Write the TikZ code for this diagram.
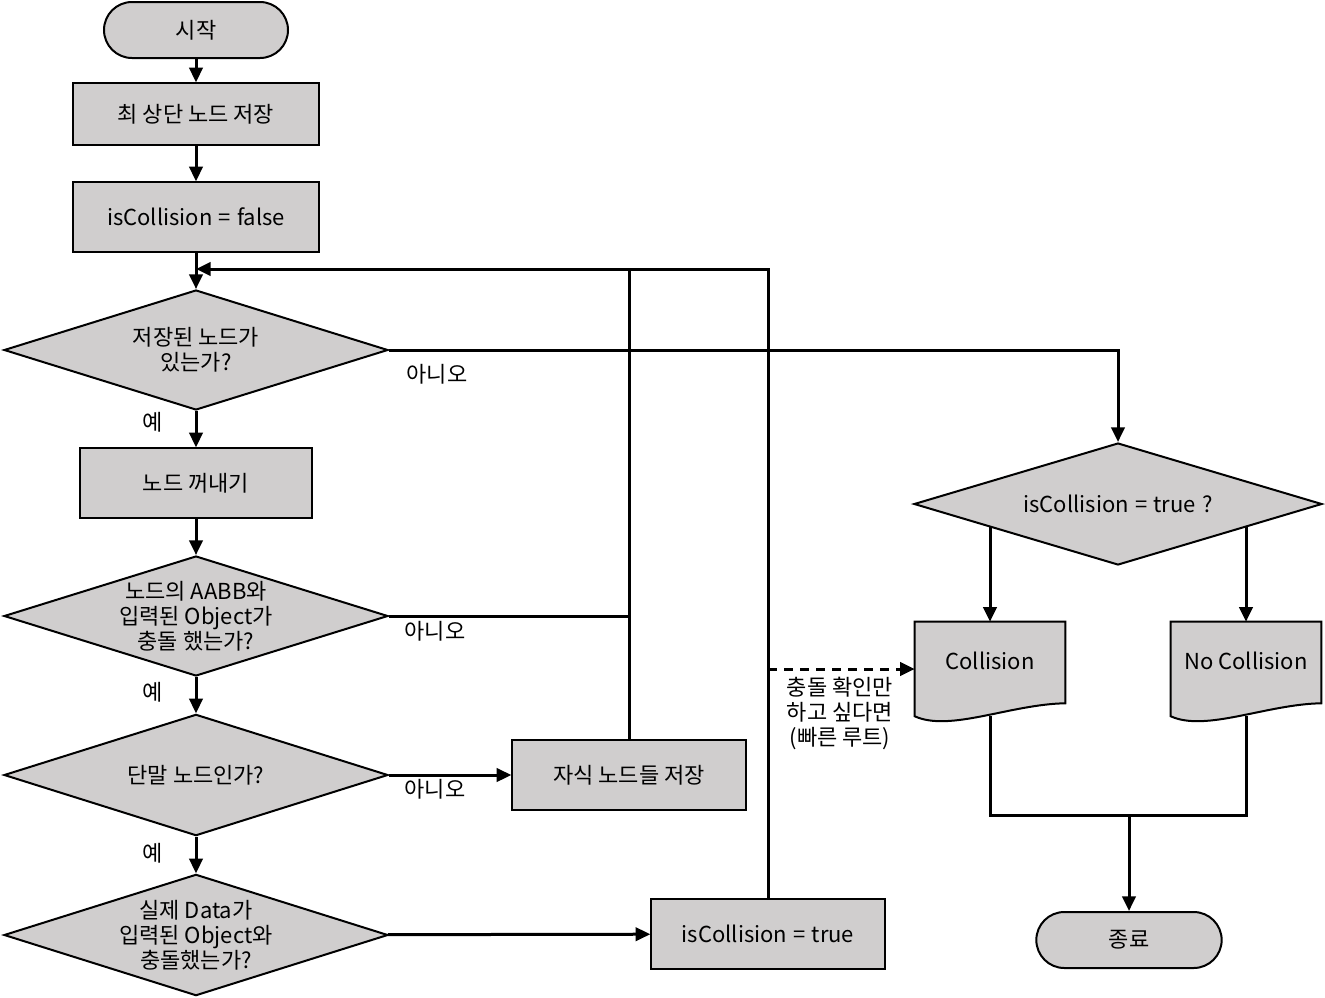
\documentclass[tikz,border=0pt]{standalone}
\usepackage{fontspec}
\setmainfont{Noto Sans CJK KR}
\usetikzlibrary{shapes.geometric, arrows.meta, calc, backgrounds}
\definecolor{boxgray}{RGB}{208,206,206}
\newcommand{\gap}{\hspace{0.28em}}
\tikzset{
  outline/.style={draw, fill=boxgray, line width=1.5pt},
  txt/.style={font=\fontsize{16.5}{18.75}\selectfont, align=center},
  process/.style={outline, txt, rectangle, inner sep=0pt},
  terminal/.style={outline, txt, rectangle, rounded corners=21pt, inner sep=0pt},
  decision/.style={outline, txt, diamond, inner sep=-25pt},
  docbox/.style={txt, rectangle, inner sep=0pt, text depth=13pt},
  flow/.style={line width=2.25pt, -{Triangle[length=11pt, width=10pt]}},
  wire/.style={line width=2.25pt},
  lbl/.style={txt}
}
\begin{document}
\begin{tikzpicture}[x=0.75pt, y=-0.75pt]
    \useasboundingbox (0,0) rectangle (1325,997);

    % main column
    \node[terminal, minimum width=138pt, minimum height=42pt] (start) at (196,30) {시작};
    \node[process, minimum width=185pt, minimum height=46pt] (store) at (196,114) {최 상단 노드 저장};
    \node[process, minimum width=185pt, minimum height=52pt] (init) at (196,217) {isCollision\gap=\gap false};
    \node[decision, minimum width=288pt, minimum height=90pt] (has) at (196,350) {저장된 노드가\\있는가?};
    \node[process, minimum width=174pt, minimum height=52pt] (pop) at (196,483) {노드 꺼내기};
    \node[decision, minimum width=288pt, minimum height=90pt] (hit) at (196,616) {노드의 AABB와\\입력된 Object가\\충돌 했는가?};
    \node[decision, minimum width=288pt, minimum height=91pt] (leaf) at (196,775) {단말 노드인가?};
    \node[decision, minimum width=288pt, minimum height=91pt] (data) at (196,935) {실제 Data가\\입력된 Object와\\충돌했는가?};
    \node[process, minimum width=175pt, minimum height=52pt] (child) at (629,775) {자식 노드들 저장};
    \node[process, minimum width=175pt, minimum height=52pt] (found) at (768,934) {isCollision\gap=\gap true};

    % result column
    \node[decision, minimum width=306pt, minimum height=91.5pt] (check) at (1118,504) {isCollision\gap=\gap true\gap?};
    \node[docbox, minimum width=112.5pt, minimum height=70.5pt] (collide) at (990,669) {Collision};
    \node[docbox, minimum width=112.5pt, minimum height=70.5pt] (nocoll) at (1246,669) {No Collision};
    \node[terminal, minimum width=139pt, minimum height=42pt] (finish) at (1129,940) {종료};

    \begin{scope}[on background layer]
        \foreach \d in {collide, nocoll}
            \draw[outline] (\d.south west) |- (\d.north east) -- ([yshift=9.75pt]\d.south east)
                .. controls ($(\d.south east)+(-55,-12)$) and ($(\d.south west)+(35,16)$) .. (\d.south west) -- cycle;
    \end{scope}

    % labels
    \node[lbl] (yes1) at (153,422) {예};
    \node[lbl] (yes2) at (153,692) {예};
    \node[lbl] (yes3) at (153,853) {예};
    \node[lbl] (no1) at (437,374) {아니오};
    \node[lbl] (no2) at (435,631) {아니오};
    \node[lbl] (no3) at (435,789) {아니오};
    \node[lbl] (quicknote) at (840,713) {충돌 확인만\\하고 싶다면\\(빠른 루트)};

    % connectors
    \coordinate (merge) at (196,269);
    \coordinate (join) at (1129,815);
    \draw[flow] (start) -- (store);
    \draw[flow] (store) -- (init);
    \draw[flow] (init) -- (has);
    \draw[flow] (has) -- (pop);
    \draw[flow] (pop) -- (hit);
    \draw[flow] (hit) -- (leaf);
    \draw[flow] (leaf) -- (data);
    \draw[flow] (leaf) -- (child);
    \draw[flow] (data) -- (found);
    \draw[flow] (has.east) -| (check.north);
    \draw[wire] (hit.east) -- (hit.east -| child.north);
    \draw[wire] (child.north) -- (child.north |- merge);
    \draw[flow] (found.north) |- (merge);
    \draw[flow, dash pattern=on 7pt off 5pt] (collide.west -| found.north) -- (collide.west);
    \draw[flow] (check.190 -| collide.north) -- (collide.north);
    \draw[flow] (check.350 -| nocoll.north) -- (nocoll.north);
    \draw[wire] (collide.south) |- (join) -| (nocoll.south);
    \draw[flow] (join) -- (finish);
\end{tikzpicture}
\end{document}
